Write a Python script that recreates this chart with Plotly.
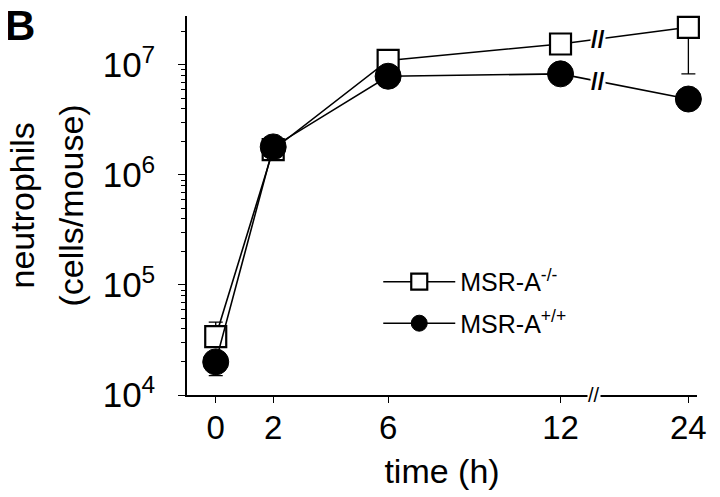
import numpy as np
import plotly.graph_objects as go

# ---- data ----
time_labels = ["0", "2", "6", "12", "24"]
time_axis_pos = [0, 2, 6, 12, 16.45]          # broken axis: 24 h placed after the break

ko_name = "MSR-A<sup>-/-</sup>"
ko_mean = [3.4e4, 1.70e6, 1.10e7, 1.55e7, 2.2e7]
ko_err_up = [1.2e4, 0, 0.08e7, 0.1e7, 1.3e7]
ko_err_down = [0.6e4, 0, 0.08e7, 0.1e7, 1.37e7]

wt_name = "MSR-A<sup>+/+</sup>"
wt_mean = [2.0e4, 1.80e6, 7.9e6, 8.3e6, 4.9e6]
wt_err_up = [0.2e4, 0, 0, 0, 0]
wt_err_down = [0.5e4, 0, 0, 0, 0]

y_tick_vals = [1e4, 1e5, 1e6, 1e7]
y_tick_text = ["10<sup>4</sup>", "10<sup>5</sup>", "10<sup>6</sup>", "10<sup>7</sup>"]
y_minor_vals = [k * 10 ** d for d in range(4, 8) for k in range(2, 10)]

font_family = "Liberation Sans, Arial, sans-serif"

fig = go.Figure()
fig.add_trace(go.Scatter(
    x=time_axis_pos, y=ko_mean, name=ko_name, mode="lines+markers", legendgroup="ko",
    line=dict(color="black", width=1.6),
    marker=dict(symbol="square", size=21, color="white", line=dict(color="black", width=2.2)),
    error_y=dict(type="data", array=ko_err_up, arrayminus=ko_err_down,
                 color="black", thickness=1.3, width=7),
    cliponaxis=False,
))
fig.add_trace(go.Scatter(
    x=time_axis_pos, y=wt_mean, name=wt_name, mode="lines+markers", legendgroup="wt",
    line=dict(color="black", width=1.6),
    marker=dict(symbol="circle", size=26, color="black", line=dict(color="black", width=1)),
    error_y=dict(type="data", array=wt_err_up, arrayminus=wt_err_down,
                 color="black", thickness=1.3, width=7),
    cliponaxis=False,
))

# break marks on the lines between 12 h and 24 h (interpolated along each segment)
brk_x = 13.3
for ys in (ko_mean, wt_mean):
    x0, x1 = time_axis_pos[3], time_axis_pos[4]
    f = (brk_x - x0) / (x1 - x0)
    ly = np.log10(ys[3]) + f * (np.log10(ys[4]) - np.log10(ys[3]))
    fig.add_annotation(x=brk_x, y=ly, xref="x", yref="y", text="<b>//</b>",
                       showarrow=False, bgcolor="white", yanchor="middle",
                       font=dict(size=24, color="black", family=font_family),
                       borderpad=0)
# break mark on the x axis
fig.add_annotation(x=13.15, y=0, xref="x", yref="paper", text="//",
                   showarrow=False, bgcolor="white", yanchor="middle",
                   font=dict(size=20, color="black", family=font_family),
                   borderpad=0)

fig.add_annotation(x=0.0, y=1.0, xref="paper", yref="paper", xanchor="left", yanchor="top",
                   text="<b>B</b>", showarrow=False, xshift=-184, yshift=16,
                   font=dict(size=42, color="black", family=font_family))

# y title as two rotated lines
fig.add_annotation(x=0, y=0.5, xref="paper", yref="paper", xanchor="center", yanchor="middle",
                   text="neutrophils", textangle=-90, showarrow=False, xshift=-166,
                   font=dict(size=34, color="black", family=font_family))
fig.add_annotation(x=0, y=0.5, xref="paper", yref="paper", xanchor="center", yanchor="middle",
                   text="(cells/mouse)", textangle=-90, showarrow=False, xshift=-117,
                   font=dict(size=34, color="black", family=font_family))

fig.update_layout(
    width=720, height=497,
    margin=dict(l=179, r=31, t=8, b=110, autoexpand=False),
    paper_bgcolor="white", plot_bgcolor="white",
    font=dict(family=font_family, color="black", size=33),
    showlegend=True,
    legend=dict(x=0.375, y=0.359, xanchor="left", yanchor="top",
                font=dict(size=25), bgcolor="rgba(0,0,0,0)", itemwidth=72,
                tracegroupgap=6),
)
fig.update_xaxes(
    range=[-1.0, 16.75], tickmode="array", tickvals=time_axis_pos, ticktext=time_labels,
    showline=True, linecolor="black", linewidth=1.5, ticks="outside", ticklen=6,
    tickcolor="black", tickwidth=1.2, showgrid=False, zeroline=False, automargin=False,
    tickfont=dict(size=33), ticklabelstandoff=-3,
    title=dict(text="time (h)", font=dict(size=34), standoff=14),
)
fig.update_yaxes(
    type="log", range=[4, 7.445], showline=True, linecolor="black", linewidth=1.5,
    ticks="outside", ticklen=7, tickcolor="black", tickwidth=1.2, automargin=False,
    tickmode="array", tickvals=y_tick_vals, ticktext=y_tick_text, ticklabelstandoff=16,
    showgrid=False, zeroline=False, tickfont=dict(size=35),
    minor=dict(ticks="outside", ticklen=4, tickcolor="black", tickwidth=1, showgrid=False,
               tickmode="array", tickvals=y_minor_vals),
)

fig.write_html("out.html")
